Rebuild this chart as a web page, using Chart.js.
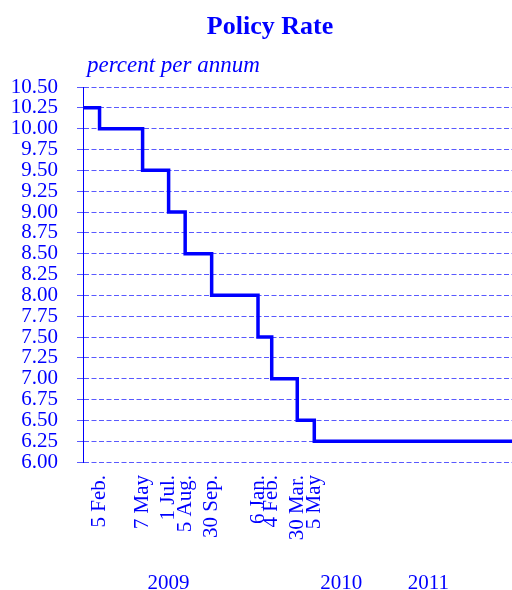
<!DOCTYPE html>
<html lang="en">
<head>
  <meta charset="UTF-8" />
  <title>Policy Rate</title>
  <script src="https://cdn.jsdelivr.net/npm/chart.js"></script>
  <style>
    body {
      margin: 0;
      background: white;
      font-family: 'Liberation Serif', 'Times New Roman', serif;
      color: #0000ff;
    }

    #wrap {
      position: relative;
      width: 512px;
      height: 590px;
    }

    canvas {
      display: block;
    }

    .title {
      position: absolute;
      top: 13px;
      left: 0;
      width: 540px;
      text-align: center;
      font-size: 26px;
      line-height: 26px;
      font-weight: bold;
    }

    .unit {
      position: absolute;
      top: 55px;
      left: 87px;
      font-size: 23px;
      line-height: 20px;
      font-style: italic;
    }
  </style>
</head>
<body>

  <div id="wrap">
    <canvas id="rateChart" width="512" height="590"></canvas>
    <div class="title">Policy Rate</div>
    <div class="unit">percent per annum</div>
  </div>

  <script>
    // policy rate changes (value holds from that date on)
    const rateDates = ['2009-01-01', '2009-02-05', '2009-05-07', '2009-07-01', '2009-08-05', '2009-09-30',
                       '2010-01-06', '2010-02-04', '2010-03-30', '2010-05-05', '2011-06-30'];
    const rates = [10.25, 10.00, 9.50, 9.00, 8.50, 8.00, 7.50, 7.00, 6.50, 6.25, 6.25];

    const changeDates = ['2009-02-05', '2009-05-07', '2009-07-01', '2009-08-05', '2009-09-30',
                         '2010-01-06', '2010-02-04', '2010-03-30', '2010-05-05'];
    const changeLabels = ['5 Feb.', '7 May', '1 Jul.', '5 Aug.', '30 Sep.',
                          '6 Jan.', '4 Feb.', '30 Mar.', '5 May'];

    const yearDates = ['2009-07-01', '2010-07-01', '2011-01-01'];
    const yearLabels = ['2009', '2010', '2011'];

    const startDate = '2009-01-01';
    const endDate = '2011-06-27';

    const blue = '#0000ff';
    const gridBlue = 'rgba(0, 0, 255, 0.65)';

    // days since start, used as the x value
    const day = s => (Date.parse(s) - Date.parse(startDate)) / 86400000;

    const points = rateDates.map((d, i) => ({ x: day(d), y: rates[i] }));

    const fontFamily = "'Liberation Serif', 'Times New Roman', serif";

    new Chart(document.getElementById('rateChart'), {
      type: 'line',
      data: {
        datasets: [{
          data: points,
          stepped: true,
          borderColor: blue,
          borderWidth: 3.5,
          pointRadius: 0,
          fill: false
        }]
      },
      options: {
        responsive: false,
        animation: false,
        layout: {
          padding: { top: 87, left: 0, right: 0, bottom: 0 }
        },
        plugins: {
          legend: { display: false },
          tooltip: { enabled: false }
        },
        scales: {
          x: {
            type: 'linear',
            position: 'bottom',
            min: day(startDate),
            max: day(endDate),
            grid: { display: false, drawTicks: false },
            border: { display: false },
            afterBuildTicks: scale => {
              scale.ticks = changeDates.map(d => ({ value: day(d) }));
            },
            afterFit: scale => { scale.height = 90; },
            ticks: {
              autoSkip: false,
              minRotation: 90,
              maxRotation: 90,
              padding: 13,
              color: blue,
              font: { family: fontFamily, size: 21 },
              callback: (v, i) => changeLabels[i]
            }
          },
          x2: {
            type: 'linear',
            position: 'bottom',
            weight: 1,
            min: day(startDate),
            max: day(endDate),
            grid: { display: false, drawTicks: false },
            border: { display: false },
            afterBuildTicks: scale => {
              scale.ticks = yearDates.map(d => ({ value: day(d) }));
            },
            afterFit: scale => { scale.height = 38; },
            ticks: {
              autoSkip: false,
              maxRotation: 0,
              padding: 19,
              color: blue,
              font: { family: fontFamily, size: 21 },
              callback: (v, i) => yearLabels[i]
            }
          },
          y: {
            min: 6,
            max: 10.5,
            afterFit: scale => { scale.width = 83; },
            grid: {
              color: gridBlue,
              lineWidth: 1,
              tickLength: 6,
              tickColor: gridBlue
            },
            border: {
              display: true,
              color: blue,
              width: 1,
              dash: [5, 2.5]
            },
            ticks: {
              autoSkip: false,
              stepSize: 0.25,
              padding: 19,
              color: blue,
              font: { family: fontFamily, size: 21 },
              callback: v => v.toFixed(2)
            }
          }
        }
      }
    });
  </script>

</body>
</html>
